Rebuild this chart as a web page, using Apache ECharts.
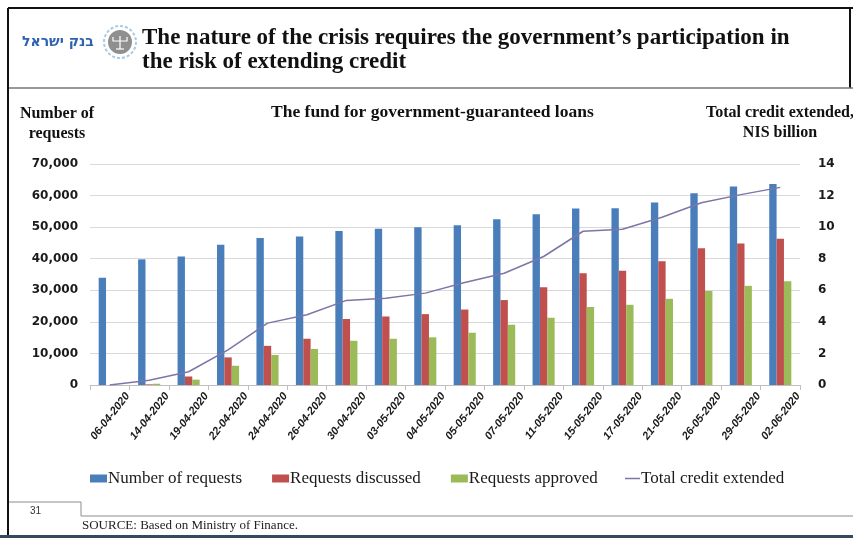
<!DOCTYPE html>
<html>
<head>
<meta charset="utf-8">
<script src="https://cdn.jsdelivr.net/npm/echarts@6/dist/echarts.min.js"></script>
<style>html,body{margin:0;padding:0;background:#fff;}#c{width:853px;height:538px;}</style>
</head>
<body>
<div id="c"></div>
<script>
const dates = ['06-04-2020','14-04-2020','19-04-2020','22-04-2020','24-04-2020','26-04-2020','30-04-2020','03-05-2020','04-05-2020','05-05-2020','07-05-2020','11-05-2020','15-05-2020','17-05-2020','21-05-2020','26-05-2020','29-05-2020','02-06-2020'];
const numberOfRequests = [34000, 39800, 40700, 44400, 46600, 47000, 48800, 49500, 50000, 50600, 52500, 54100, 55900, 56000, 57800, 60700, 62900, 63700];
const requestsDiscussed = [0, 200, 2700, 8750, 12400, 14650, 20900, 21700, 22450, 23900, 26900, 31000, 35400, 36200, 39200, 43300, 44800, 46300];
const requestsApproved = [0, 400, 1700, 6100, 9500, 11400, 14000, 14650, 15100, 16550, 19100, 21300, 24700, 25400, 27300, 29800, 31400, 32900];
const totalCredit = [0, 0.3, 0.84, 2.23, 3.92, 4.45, 5.36, 5.50, 5.82, 6.49, 7.08, 8.14, 9.74, 9.87, 10.63, 11.55, 12.06, 12.52];
const seriesNames = ['Number of requests', 'Requests discussed', 'Requests approved', 'Total credit extended'];

const chart = echarts.init(document.getElementById('c'), null, {renderer: 'canvas'});
const serif = '"Liberation Serif", "Times New Roman", serif';
const sans = '"DejaVu Sans", Verdana, sans-serif';
const legendText = {fontFamily: serif, fontSize: 17, color: '#1a1a1a', padding: [0, 0, 0, -4]};

const option = {
  animation: false,
  backgroundColor: '#ffffff',
  grid: {left: 90, right: 53, top: 164, bottom: 153, containLabel: false},
  legend: [
    {
      data: seriesNames.slice(0, 3),
      left: 90, top: 470, padding: 0,
      itemWidth: 17, itemHeight: 8, itemGap: 30, icon: 'rect',
      textStyle: legendText
    },
    {
      data: [seriesNames[3]],
      left: 625, top: 470, padding: 0,
      itemWidth: 15, itemHeight: 1.5, icon: 'rect',
      itemStyle: {color: '#7f74a8'},
      textStyle: legendText
    }
  ],
  xAxis: {
    type: 'category',
    data: dates,
    axisLine: {lineStyle: {color: '#bfbfbf', width: 1}},
    axisTick: {show: true, length: 5, lineStyle: {color: '#bfbfbf'}},
    axisLabel: {rotate: 52, margin: 32, padding: [0, -29, 0, 0], fontFamily: '"Liberation Sans", Arial, sans-serif', fontWeight: 'bold', fontStyle: 'italic', fontSize: 11, color: '#1a1a1a', interval: 0}
  },
  yAxis: [
    {
      type: 'value', min: 0, max: 70000, interval: 10000,
      axisLine: {show: false}, axisTick: {show: false},
      axisLabel: {margin: 12, fontFamily: sans, fontWeight: 'bold', fontSize: 12, color: '#1a1a1a',
        formatter: v => v.toLocaleString('en-US')},
      splitLine: {lineStyle: {color: '#d9d9d9', width: 1}}
    },
    {
      type: 'value', min: 0, max: 14, interval: 2,
      axisLine: {show: false}, axisTick: {show: false},
      axisLabel: {margin: 18, fontFamily: sans, fontWeight: 'bold', fontSize: 12, color: '#1a1a1a'},
      splitLine: {show: false}
    }
  ],
  series: [
    {name: seriesNames[0], type: 'bar', data: numberOfRequests, itemStyle: {color: '#4a7ebb'}, barGap: '0%', barCategoryGap: '44%'},
    {name: seriesNames[1], type: 'bar', data: requestsDiscussed, itemStyle: {color: '#c0504d'}, barGap: '0%', barCategoryGap: '44%'},
    {name: seriesNames[2], type: 'bar', data: requestsApproved, itemStyle: {color: '#9bbb59'}, barGap: '0%', barCategoryGap: '44%'},
    {name: seriesNames[3], type: 'line', yAxisIndex: 1, data: totalCredit, symbol: 'none', showSymbol: false,
      lineStyle: {color: '#7f74a8', width: 1.5}, itemStyle: {color: '#7f74a8'}}
  ],
  graphic: [
    {type: 'line', shape: {x1: 8, y1: 8, x2: 853, y2: 8}, style: {stroke: '#111', lineWidth: 2}, silent: true},
    {type: 'line', shape: {x1: 8, y1: 8, x2: 8, y2: 538}, style: {stroke: '#111', lineWidth: 2}, silent: true},
    {type: 'line', shape: {x1: 850, y1: 8, x2: 850, y2: 88}, style: {stroke: '#111', lineWidth: 2}, silent: true},
    {type: 'line', shape: {x1: 9, y1: 88, x2: 853, y2: 88}, style: {stroke: '#777', lineWidth: 1.5}, silent: true},
    {type: 'polyline', shape: {points: [[9, 502], [81, 502], [81, 516], [853, 516]]}, style: {stroke: '#8c8c8c', lineWidth: 1, fill: null}, silent: true},
    {type: 'rect', shape: {x: 0, y: 535, width: 853, height: 3}, style: {fill: '#34495e'}, silent: true},
    {type: 'text', left: 30, top: 506, style: {text: '31', font: '10px "Liberation Sans", Arial, sans-serif', fill: '#333'}},
    {type: 'text', left: 82, top: 519, style: {text: 'SOURCE: Based on Ministry of Finance.', font: '13px ' + serif, fill: '#222'}},
    {type: 'text', left: 22, top: 35, style: {text: 'בנק ישראל', font: 'bold 14px "DejaVu Sans", "Noto Sans", sans-serif', fill: '#2e63b0'}},
    {type: 'circle', shape: {cx: 120, cy: 42, r: 16}, style: {fill: null, stroke: '#a9cbe6', lineWidth: 2, lineDash: [3, 2]}, silent: true},
    {type: 'circle', shape: {cx: 120, cy: 42, r: 12}, style: {fill: '#8f8f8f'}, silent: true},
    {type: 'polyline', shape: {points: [[113, 37], [113, 41], [127, 41], [127, 37]]}, style: {stroke: '#fff', lineWidth: 1.2, fill: null}, silent: true},
    {type: 'line', shape: {x1: 120, y1: 36, x2: 120, y2: 49}, style: {stroke: '#fff', lineWidth: 1.2}, silent: true},
    {type: 'line', shape: {x1: 116, y1: 49, x2: 124, y2: 49}, style: {stroke: '#fff', lineWidth: 1.2}, silent: true},
    {type: 'text', left: 142, top: 27, style: {text: 'The nature of the crisis requires the government\u2019s participation in', font: 'bold 23px ' + serif, fill: '#111'}},
    {type: 'text', left: 142, top: 51, style: {text: 'the risk of extending credit', font: 'bold 23px ' + serif, fill: '#111'}},
    {type: 'text', left: 271, top: 103, style: {text: 'The fund for government-guaranteed loans', font: 'bold 17.5px ' + serif, fill: '#111'}},
    {type: 'text', x: 57, y: 104, style: {text: 'Number of\nrequests', font: 'bold 16px ' + serif, fill: '#111', align: 'center', lineHeight: 20}},
    {type: 'text', x: 780, y: 103, style: {text: 'Total credit extended,\nNIS billion', font: 'bold 16px ' + serif, fill: '#111', align: 'center', lineHeight: 20}}
  ]
};
chart.setOption(option);
</script>
</body>
</html>
